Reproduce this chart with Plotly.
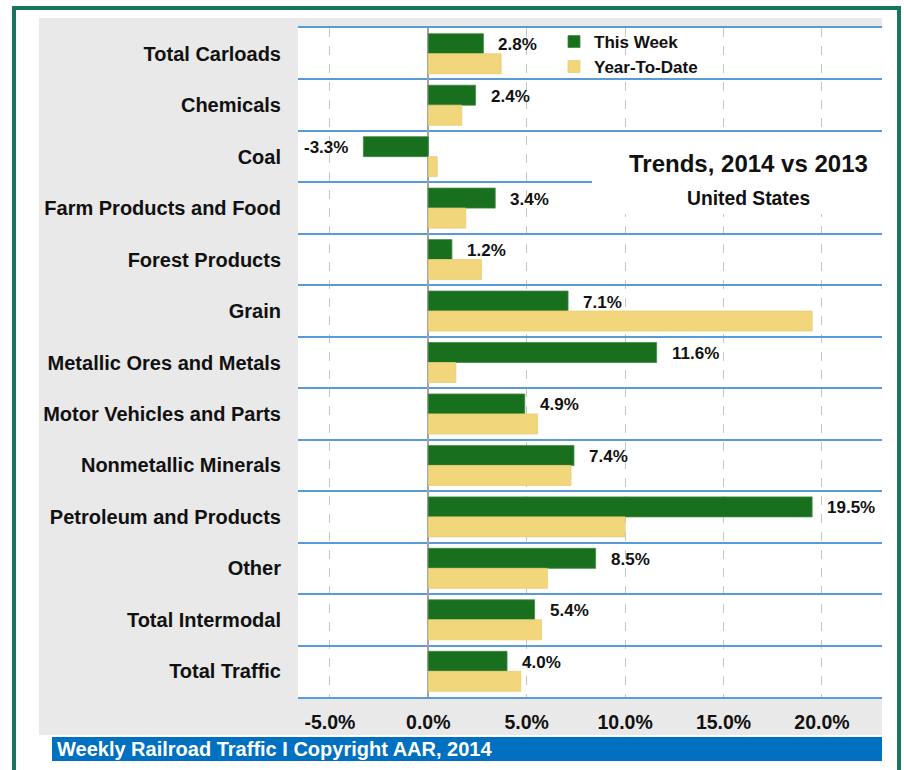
import plotly.graph_objects as go

# ---- data ----
categories = [
    "Total Carloads", "Chemicals", "Coal", "Farm Products and Food",
    "Forest Products", "Grain", "Metallic Ores and Metals",
    "Motor Vehicles and Parts", "Nonmetallic Minerals",
    "Petroleum and Products", "Other", "Total Intermodal", "Total Traffic",
]
this_week = [2.8, 2.4, -3.3, 3.4, 1.2, 7.1, 11.6, 4.9, 7.4, 19.5, 8.5, 5.4, 4.0]
year_to_date = [3.7, 1.7, 0.45, 1.9, 2.7, 19.5, 1.4, 5.55, 7.25, 10.0, 6.05, 5.75, 4.7]
tick_values = [-5, 0, 5, 10, 15, 20]
tick_labels = ["-5.0%", "0.0%", "5.0%", "10.0%", "15.0%", "20.0%"]

# ---- layout geometry (pixels) ----
W, H = 904, 770
L, R, T, B = 298, 882, 28, 697
FONT = "Liberation Sans, Arial, Helvetica, sans-serif"


def px(x):
    return (x - L) / (R - L)


def py(y):
    return (B - y) / (B - T)


fig = go.Figure()
fig.add_trace(go.Bar(
    orientation="h", x=this_week, y=categories, name="This Week",
    marker=dict(color="#18701f", line=dict(color="#3f8c3f", width=0.8)),
))
fig.add_trace(go.Bar(
    orientation="h", x=year_to_date, y=categories, name="Year-To-Date",
    marker=dict(color="#f1d67c", line=dict(color="#e9cd72", width=0.8)),
))

annotations = []
for cat, v in zip(categories, this_week):
    annotations.append(dict(
        x=v, y=cat, xref="x", yref="y", text=f"{v:.1f}%", showarrow=False,
        xanchor="left" if v >= 0 else "right", xshift=13 if v >= 0 else -13,
        yshift=9, font=dict(family=FONT, size=17, color="#111111", weight="bold"),
    ))

annotations += [
    dict(x=px(748), y=py(163), xref="paper", yref="paper", text="Trends, 2014 vs 2013",
         showarrow=False, xanchor="center", yanchor="middle",
         font=dict(family=FONT, size=24, color="#111111", weight="bold")),
    dict(x=px(748), y=py(199), xref="paper", yref="paper", text="United States",
         showarrow=False, xanchor="center", yanchor="middle",
         font=dict(family=FONT, size=19.3, color="#111111", weight="bold")),
    dict(x=px(55), y=py(749), xref="paper", yref="paper",
         text="Weekly Railroad Traffic I Copyright AAR, 2014",
         showarrow=False, xanchor="left", yanchor="middle",
         font=dict(family=FONT, size=20, color="white", weight="bold")),
]

shapes = [
    # gray panel
    dict(type="rect", xref="paper", yref="paper", x0=px(39), x1=px(882), y0=py(735), y1=py(18),
         fillcolor="#e9e9e9", line=dict(width=0), layer="below"),
    # white plot area
    dict(type="rect", xref="paper", yref="paper", x0=0, x1=1, y0=0, y1=1,
         fillcolor="white", line=dict(width=0), layer="below"),
    # white box behind the chart title
    dict(type="rect", xref="paper", yref="paper", x0=px(592), x1=1, y0=py(214), y1=py(135),
         fillcolor="white", line=dict(width=0), layer="above"),
    # footer bar
    dict(type="rect", xref="paper", yref="paper", x0=px(52), x1=px(882), y0=py(761), y1=py(737),
         fillcolor="#0070c0", line=dict(width=0), layer="above"),
    # green frame
    dict(type="rect", xref="paper", yref="paper", x0=px(14), x1=px(899), y0=py(800), y1=py(8),
         fillcolor="rgba(0,0,0,0)", line=dict(color="#177560", width=4), layer="above"),
]

fig.update_layout(
    width=W, height=H,
    margin=dict(l=L, r=W - R, t=T, b=H - B, pad=0),
    paper_bgcolor="white", plot_bgcolor="rgba(0,0,0,0)",
    barmode="group", bargap=0.223, bargroupgap=0,
    font=dict(family=FONT, color="#111111"),
    showlegend=True,
    legend=dict(x=px(554), y=py(24), xanchor="left", yanchor="top",
                bgcolor="rgba(0,0,0,0)", traceorder="normal", tracegroupgap=0,
                font=dict(family=FONT, size=17, color="#111111", weight="bold")),
    annotations=annotations,
    shapes=shapes,
    xaxis=dict(
        range=[-6.62, 23.05], tickvals=tick_values, ticktext=tick_labels,
        showgrid=True, griddash="dash", gridcolor="#c6c6c6", gridwidth=1,
        zeroline=True, zerolinecolor="#a3a3a3", zerolinewidth=2,
        showline=True, mirror=True, linecolor="#5b9bd5", linewidth=2,
        ticks="", ticklabelstandoff=7,
        tickfont=dict(family=FONT, size=19.5, color="#111111", weight="bold"),
        fixedrange=True,
    ),
    yaxis=dict(
        type="category", autorange="reversed", tickson="boundaries",
        showgrid=True, gridcolor="#5b9bd5", gridwidth=2,
        showline=False, zeroline=False, ticks="", ticklabelstandoff=16,
        tickfont=dict(family=FONT, size=20, color="#111111", weight="bold"),
        fixedrange=True,
    ),
)

fig.write_html(
    "out.html",
    config={"displayModeBar": False},
    post_script="document.body.style.margin='0';document.body.style.overflow='hidden';",
)
